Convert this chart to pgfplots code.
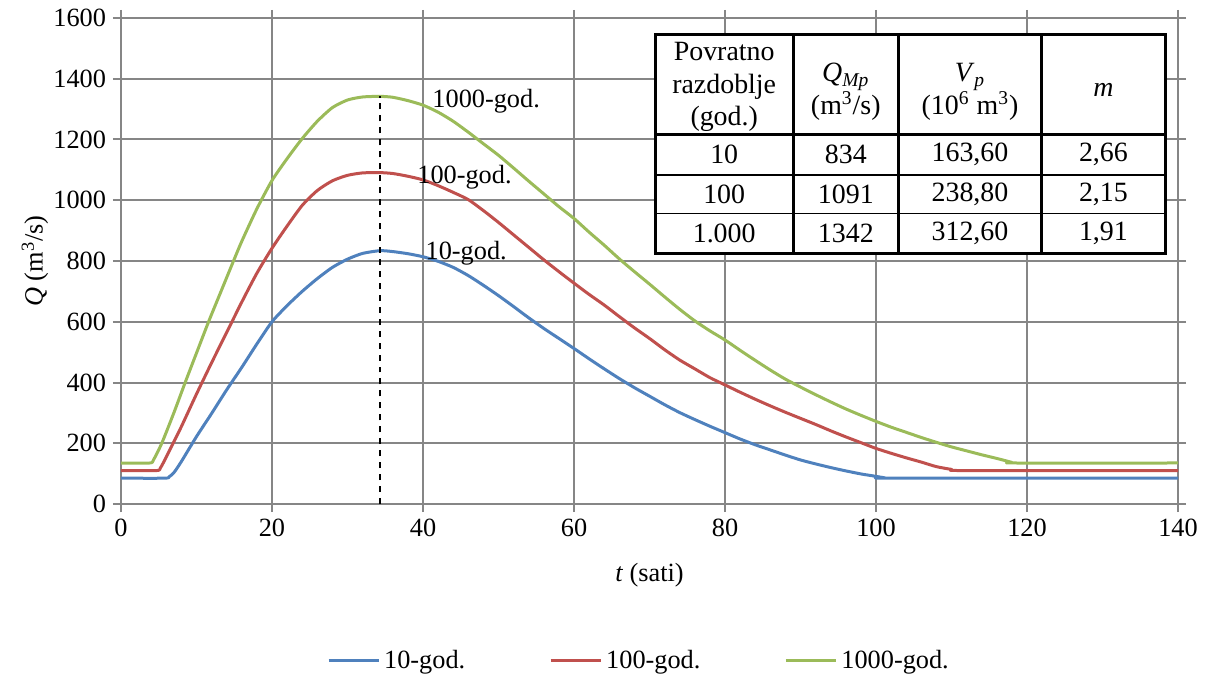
\documentclass[border=0pt]{standalone}
\usepackage{fontspec}
\setmainfont{Liberation Serif}
\usepackage{pgfplots}
\pgfplotsset{compat=1.18}
\definecolor{cblue}{HTML}{4F81BD}
\definecolor{cred}{HTML}{C0504D}
\definecolor{cgreen}{HTML}{9BBB59}
\definecolor{gridgray}{RGB}{134,134,134}
\newcommand{\fs}{\fontsize{13.2}{15.8}\selectfont}
\newcommand{\tfs}{\fontsize{14}{16.5}\selectfont}
\begin{document}
\begin{tikzpicture}
\useasboundingbox (-60.5bp,-86bp) rectangle (542bp,252bp);
\begin{axis}[
  scale only axis, width=528.5bp, height=243bp,
  xmin=0, xmax=140, ymin=0, ymax=1600,
  xtick={0,20,...,140}, ytick={0,200,...,1600},
  grid=major, grid style={gridgray, line width=1bp},
  axis line style={gridgray, line width=1bp},
  tick style={gridgray, line width=1bp}, tick align=outside, major tick length=4bp,
  ticklabel style={font=\fs, text=black},
  /pgf/number format/assume math mode=true,
  /pgf/number format/1000 sep={},
  xlabel={\textit{t} (sati)}, ylabel={\textit{Q} (m\textsuperscript{3}/s)},
  label style={font=\fs},
  xlabel style={at={(axis description cs:0.5,-0.146)}, anchor=center},
  ylabel style={at={(axis description cs:-0.0814,0.5)}, anchor=center},
  legend columns=3,
  legend style={draw=none, font=\fs, at={(0.491,-0.323)}, anchor=center,
    /tikz/every even column/.append style={column sep=40bp}},
  legend image code/.code={\draw[#1, line width=1.5bp] (0bp,0bp) -- (25bp,0bp);},
  every axis plot/.append style={line width=1.5bp, line join=round},
]
\addplot[cblue, smooth, tension=0.4] coordinates {
(0,85) (5.8,85) (6.4,90) (7,103) (8,140) (10,222) (12,298) (14,376) (16,450) (18,527)
(20,600) (22,653) (24,700) (26,742) (28,779) (30,806) (32,825) (34.3,834) (36,831)
(38,824) (40,814) (42,799) (44,779) (46,752) (48,720) (50,686) (52,650) (54,613)
(56,578) (58,545) (60,512) (62,478) (64,445) (66,413) (68,383) (70,355) (72,327)
(74,301) (76,278) (78,256) (80,235) (82,214) (84,195) (86,178) (88,161) (90,145)
(92,132) (94,120) (96,109) (98,99) (100,91) (101.2,86) (102,85) (140,85)};
\addlegendentry{10-god.}
\addplot[cred, smooth, tension=0.4] coordinates {
(0,110) (4.7,110) (5.2,118) (5.8,145) (6.9,200) (8,255) (10,362) (12,465) (14,565)
(16,665) (18,760) (20,842) (22,915) (24,983) (26,1032) (28,1064) (30,1082) (32,1090)
(34.3,1091) (36,1088) (38,1079) (40,1067) (42,1048) (44,1026) (46,1002) (48,966)
(50,927) (52,886) (54,845) (56,804) (58,765) (60,727) (62,690) (64,655) (66,617)
(68,580) (70,545) (72,508) (74,474) (76,445) (78,416) (80,392) (82,368) (84,345)
(86,323) (88,302) (90,282) (92,262) (94,241) (96,221) (98,202) (100,183) (102,167)
(104,152) (106,138) (108,123) (110,114) (111.8,110) (140,110)};
\addlegendentry{100-god.}
\addplot[cgreen, smooth, tension=0.4] coordinates {
(0,135) (3.8,135) (4.3,145) (5.4,200) (7,300) (8.5,400) (10,497) (11.6,600) (13,685)
(14.9,800) (16,865) (18,972) (20,1065) (22,1137) (24,1203) (26,1260) (28,1305)
(30,1330) (32,1340) (34.3,1342) (36,1339) (38,1328) (40,1313) (42,1290) (44,1260)
(46,1224) (48,1186) (50,1148) (52,1106) (54,1063) (56,1021) (58,979) (60,940)
(62,895) (64,852) (66,807) (68,765) (70,724) (72,682) (74,641) (76,603) (78,570)
(80,540) (82,506) (84,473) (86,441) (88,411) (90,385) (92,360) (94,336) (96,313)
(98,292) (100,272) (102,253) (104,236) (106,219) (108,203) (110,188) (112,175)
(114,162) (116,150) (118,137) (118.4,135) (140,135)};
\addlegendentry{1000-god.}
\addplot[black, line width=0.6bp, dashed, forget plot] coordinates {(34.3,0) (34.3,1342)};
\node[anchor=west, inner sep=0pt, font=\fs] at (axis cs:41.2,1325) {1000-god.};
\node[anchor=west, inner sep=0pt, font=\fs] at (axis cs:39.2,1076) {100-god.};
\node[anchor=west, inner sep=0pt, font=\fs] at (axis cs:40.3,824) {10-god.};
\end{axis}
% inset table
\fill[white] (267bp,125.35bp) rectangle (522bp,234.5bp);
\draw[black, line width=0.75bp] (267bp,164.5bp) -- (522bp,164.5bp);
\draw[black, line width=0.75bp] (267bp,145.35bp) -- (522bp,145.35bp);
\draw[black, line width=1.5bp] (267bp,184.85bp) -- (522bp,184.85bp);
\draw[black, line width=1.5bp] (336.15bp,125.35bp) -- (336.15bp,234.5bp);
\draw[black, line width=1.5bp] (388.65bp,125.35bp) -- (388.65bp,234.5bp);
\draw[black, line width=1.5bp] (460.35bp,125.35bp) -- (460.35bp,234.5bp);
\draw[black, line width=1.5bp] (267bp,125.35bp) rectangle (522bp,234.5bp);
\node[align=center, font=\tfs, inner sep=0pt] at (301.6bp,208.5bp) {Povratno\\razdoblje\\(god.)};
\node[align=center, font=\tfs, inner sep=0pt] at (362.4bp,206bp) {\textit{Q}\textsubscript{\textit{Mp}}\\(m\textsuperscript{3}/s)};
\node[align=center, font=\tfs, inner sep=0pt] at (424.5bp,206bp) {\textit{V}\textsubscript{\textit{p}}\\(10\textsuperscript{6} m\textsuperscript{3})};
\node[font=\tfs, inner sep=0pt] at (491.2bp,207bp) {\textit{m}};
\node[font=\tfs] at (301.6bp,174.7bp) {10};
\node[font=\tfs] at (362.4bp,174.7bp) {834};
\node[font=\tfs] at (424.5bp,174.7bp) {163,60};
\node[font=\tfs] at (491.2bp,174.7bp) {2,66};
\node[font=\tfs] at (301.6bp,154.9bp) {100};
\node[font=\tfs] at (362.4bp,154.9bp) {1091};
\node[font=\tfs] at (424.5bp,154.9bp) {238,80};
\node[font=\tfs] at (491.2bp,154.9bp) {2,15};
\node[font=\tfs] at (301.6bp,135.35bp) {1.000};
\node[font=\tfs] at (362.4bp,135.35bp) {1342};
\node[font=\tfs] at (424.5bp,135.35bp) {312,60};
\node[font=\tfs] at (491.2bp,135.35bp) {1,91};
\end{tikzpicture}
\end{document}
